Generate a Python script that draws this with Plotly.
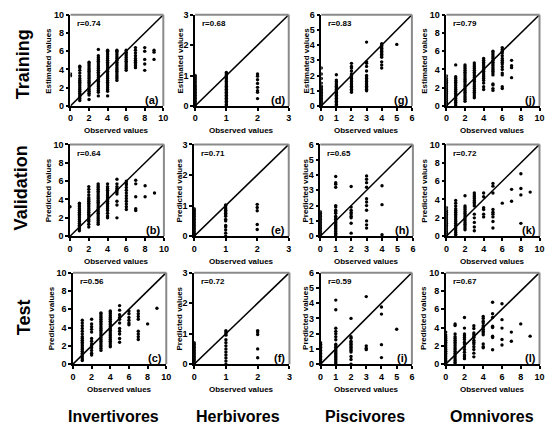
import plotly.graph_objects as go

W, H = 545, 430

# ---------------- data: observed value -> list of estimated/predicted values ----------------
train_invert = {
    0: [3.3, 3.5],
    1: [0.6, 0.8, 1.0, 1.2, 1.4, 1.6, 1.8, 2.0, 2.2, 2.4, 2.6, 2.8, 3.0, 3.3, 3.6, 3.9, 4.2, 4.35],
    2: [0.7, 1.2, 1.4, 1.6, 1.8, 2.0, 2.2, 2.4, 2.6, 2.8, 3.0, 3.2, 3.4, 3.6, 3.8, 4.0, 4.2, 4.4, 4.6, 4.8],
    3: [1.1, 1.5, 1.7, 1.9, 2.1, 2.3, 2.5, 2.7, 2.9, 3.1, 3.3, 3.5, 3.7, 3.9, 4.1, 4.3, 4.5, 4.7, 4.9, 5.1, 5.3, 5.5, 6.2],
    4: [1.1, 1.6, 1.8, 2.0, 2.2, 2.4, 2.6, 2.8, 3.0, 3.2, 3.4, 3.6, 3.8, 4.0, 4.2, 4.4, 4.6, 4.8, 5.0, 5.2, 5.4, 5.6, 5.8, 6.0, 6.1],
    5: [2.8, 3.0, 3.2, 3.4, 3.6, 3.8, 4.0, 4.2, 4.4, 4.6, 4.8, 5.0, 5.2, 5.4, 5.6, 5.8, 6.0, 6.1],
    6: [3.9, 4.1, 4.3, 4.5, 4.7, 4.9, 5.1, 5.3, 5.5, 5.7, 5.9, 6.1],
    7: [4.2, 4.4, 4.6, 4.8, 5.0, 5.2, 5.5, 5.8, 6.1, 6.4],
    8: [3.9, 4.6, 5.1, 6.0, 6.4],
    9: [5.1, 5.9, 6.1],
}
train_herb = {
    0: [0.0, 0.05, 0.1, 0.15, 0.2, 0.25, 0.3, 0.35, 0.4, 0.45, 0.5, 0.55, 0.6, 0.65, 0.7, 0.75, 0.8, 0.85, 0.9, 0.95, 1.0],
    1: [0.0, 0.05, 0.1, 0.15, 0.2, 0.25, 0.3, 0.35, 0.4, 0.45, 0.5, 0.55, 0.6, 0.65, 0.7, 0.75, 0.8, 0.85, 0.9, 0.95, 1.0, 1.05, 1.1],
    2: [0.24, 0.45, 0.5, 0.61, 0.74, 0.86, 0.98, 1.05],
}
train_pisc = {
    0: [0.0, 0.1, 0.2, 0.3, 0.4, 0.5, 0.6, 0.7, 0.8, 0.9, 1.0, 1.1, 1.2, 1.3, 1.5, 1.8, 2.1, 2.5],
    1: [0.0, 0.1, 0.2, 0.3, 0.4, 0.5, 0.6, 0.7, 0.8, 0.9, 1.0, 1.1, 1.2, 1.3, 1.4, 1.5, 1.6, 1.7, 2.05],
    2: [0.9, 1.0, 1.1, 1.2, 1.3, 1.4, 1.5, 1.6, 1.7, 1.8, 1.9, 2.0, 2.1, 2.3, 2.5, 2.6, 2.8],
    3: [1.0, 1.1, 1.2, 1.3, 1.4, 1.5, 1.6, 1.7, 1.8, 1.9, 2.0, 2.3, 2.6, 2.8, 2.9, 4.2],
    4: [2.5, 2.7, 2.9, 3.2, 3.3, 3.4, 3.5, 3.6, 3.7, 3.8, 3.9, 4.0, 4.1],
    5: [4.05],
}
train_omni = {
    0: [0.0, 0.2, 0.4, 0.6, 0.8, 1.0, 1.2, 1.4, 1.6, 1.8, 2.0, 2.2, 2.4, 2.6, 2.8, 3.0, 3.3],
    1: [0.0, 0.2, 0.4, 0.6, 0.8, 1.0, 1.2, 1.4, 1.6, 1.8, 2.0, 2.2, 2.4, 2.6, 2.8, 3.0, 3.2, 4.5],
    2: [0.5, 0.7, 0.9, 1.1, 1.3, 1.5, 1.7, 1.9, 2.1, 2.3, 2.5, 2.7, 2.9, 3.1, 3.3, 3.5, 3.7, 3.9, 4.1, 4.3, 4.5],
    3: [0.9, 1.1, 1.3, 1.5, 1.7, 1.9, 2.1, 2.3, 2.5, 2.7, 2.9, 3.1, 3.3, 3.5, 3.7, 3.9, 4.1, 4.3, 4.5, 4.7],
    4: [1.8, 2.1, 2.5, 2.8, 3.0, 3.2, 3.4, 3.6, 3.8, 4.0, 4.2, 4.4, 4.6, 4.8, 5.0, 5.2],
    5: [1.7, 1.9, 2.3, 2.4, 3.4, 3.6, 3.8, 4.0, 4.2, 4.4, 4.6, 4.8, 5.0, 5.2, 5.4, 5.6, 5.8, 6.0],
    6: [1.9, 2.1, 3.4, 3.6, 4.0, 4.3, 4.6, 4.8, 5.0, 5.2, 5.5, 5.8, 6.0, 6.2, 6.4],
    7: [3.1, 4.2, 4.4, 5.0],
}
valid_invert = {
    0: [3.2],
    1: [0.6, 0.8, 1.0, 1.2, 1.4, 1.6, 1.8, 2.0, 2.2, 2.4, 2.6, 2.8, 3.0, 3.2, 3.4, 3.6],
    2: [1.0, 1.3, 1.6, 1.8, 2.0, 2.2, 2.4, 2.6, 2.8, 3.0, 3.2, 3.4, 3.6, 3.8, 4.0, 4.2, 4.5, 4.8, 5.1, 5.4],
    3: [1.3, 1.5, 1.7, 1.9, 2.1, 2.3, 2.5, 2.7, 2.9, 3.1, 3.3, 3.5, 3.7, 3.9, 4.1, 4.3, 4.5, 4.7, 4.9, 5.1, 5.3, 5.5, 5.7],
    4: [2.0, 2.2, 2.5, 2.8, 3.0, 3.2, 3.4, 3.6, 3.8, 4.0, 4.2, 4.4, 4.6, 4.8, 5.0, 5.2, 5.4, 5.7],
    5: [2.0, 3.4, 3.8, 4.6, 4.8, 5.0, 5.2, 5.4, 5.7, 6.2],
    6: [2.9, 3.2, 3.5, 3.8, 4.1, 4.4, 4.7, 5.0, 5.3, 5.6, 5.8, 6.0],
    7: [2.8, 3.0, 4.3, 5.7, 6.1],
    8: [4.3, 5.5],
    9: [4.7],
}
valid_herb = {
    0: [0.0, 0.05, 0.1, 0.15, 0.2, 0.25, 0.3, 0.35, 0.4, 0.45, 0.5, 0.55, 0.6, 0.65, 0.7, 0.75, 0.8, 0.85, 0.9],
    1: [0.0, 0.1, 0.2, 0.3, 0.35, 0.5, 0.55, 0.65, 0.7, 0.75, 0.8, 0.85, 0.9, 0.95, 1.0, 1.02],
    2: [0.22, 0.38, 0.83, 0.94, 1.04],
}
valid_pisc = {
    0: [0.0, 0.1, 0.2, 0.3, 0.4, 0.5, 0.6, 0.7, 0.8, 0.9, 1.0, 1.1, 1.2, 1.3, 1.4, 1.5, 1.6],
    1: [0.0, 0.1, 0.2, 0.3, 0.4, 0.5, 0.6, 0.7, 0.8, 0.9, 1.0, 1.1, 1.2, 1.3, 1.5, 1.6, 1.7, 1.9, 2.0, 3.2, 3.4, 3.5, 3.9],
    2: [0.2, 0.85, 1.2, 1.3, 1.45, 1.55, 1.7, 1.9, 3.25],
    3: [0.53, 0.74, 1.0, 1.7, 2.0, 2.23, 2.45, 3.2, 3.5, 3.72, 3.94],
    4: [0.1, 2.06, 3.3],
}
valid_omni = {
    0: [0.0, 0.2, 0.4, 0.6, 0.8, 1.0, 1.2, 1.4, 1.6, 1.8, 2.0, 2.2, 2.4, 2.6, 2.8, 3.1],
    1: [0.0, 0.2, 0.4, 0.6, 0.8, 1.0, 1.2, 1.4, 1.6, 1.8, 2.0, 2.2, 2.4, 2.6, 2.8, 3.0, 3.3, 3.6, 3.9],
    2: [0.7, 0.9, 1.1, 1.3, 1.5, 1.7, 1.9, 2.1, 2.3, 2.5, 2.7, 2.9, 3.1, 3.3, 4.4],
    3: [0.6, 1.0, 1.5, 2.0, 2.4, 3.3, 3.5, 3.7, 3.9, 4.1, 4.3, 4.5, 4.7],
    4: [2.1, 2.4, 2.9, 3.1, 4.3, 4.7],
    5: [0.9, 1.6, 2.1, 2.4, 2.6, 2.9, 4.7, 5.45, 5.75],
    6: [3.6],
    7: [3.8, 5.1],
    8: [1.4, 4.5, 5.2, 6.8],
    9: [4.8],
}
test_invert = {
    1: [0.4, 0.6, 0.8, 1.0, 1.2, 1.4, 1.6, 1.8, 2.0, 2.2, 2.4, 2.6, 2.8, 3.0, 3.3, 3.6, 3.9, 4.2, 4.5, 4.8],
    2: [1.0, 1.2, 1.5, 1.8, 2.0, 2.2, 2.5, 2.8, 3.5, 3.8, 4.1, 4.4, 4.9],
    3: [1.5, 1.7, 1.9, 2.1, 2.3, 2.5, 2.7, 2.9, 3.1, 3.3, 3.5, 3.7, 3.9, 4.1, 4.3, 4.5, 4.7, 4.9, 5.1, 5.3, 5.5, 5.6],
    4: [1.9, 2.1, 2.3, 2.5, 2.7, 2.9, 3.1, 3.3, 3.5, 3.7, 3.9, 4.1, 4.3, 4.5, 4.7, 4.9, 5.1, 5.3, 5.5, 5.7, 5.8],
    5: [2.4, 2.8, 3.3, 3.6, 3.9, 4.5, 4.9, 5.1, 5.4, 5.9, 6.4],
    6: [4.3, 4.5, 4.8, 5.1, 5.5, 5.8],
    7: [2.7, 3.0, 3.3, 3.6, 4.9, 5.2, 5.5, 5.8],
    8: [4.4],
    9: [6.1],
}
test_herb = {
    0: [0.0, 0.05, 0.1, 0.15, 0.2, 0.25, 0.3, 0.35, 0.4, 0.45, 0.5, 0.55, 0.6, 0.65, 0.7],
    1: [0.0, 0.1, 0.2, 0.3, 0.4, 0.5, 0.6, 0.7, 0.8, 0.95, 1.0, 1.05, 1.1],
    2: [0.21, 0.5, 0.97, 1.05, 1.1],
}
test_pisc = {
    0: [0.0, 0.1, 0.2, 0.3, 0.4, 0.5, 0.6, 0.7, 0.8, 0.9, 1.0, 1.1, 1.2, 1.3, 1.4],
    1: [0.0, 0.1, 0.2, 0.3, 0.4, 0.5, 0.6, 0.7, 0.8, 0.9, 1.0, 1.1, 1.2, 1.3, 1.6, 1.8, 2.0, 2.15, 2.35, 3.57, 4.2],
    2: [0.0, 0.3, 0.5, 0.8, 0.9, 1.0, 1.1, 1.2, 1.3, 1.4, 1.5, 1.7, 1.8, 3.0],
    3: [0.95, 1.05, 1.2, 4.43],
    4: [0.43, 1.28, 3.28, 3.75],
    5: [2.29],
}
test_omni = {
    0: [0.0, 0.2, 0.4, 0.6, 0.8, 1.0, 1.2, 1.4, 1.6, 1.8, 2.0, 2.2, 2.4, 2.6, 2.8, 3.0, 3.2, 3.5],
    1: [0.0, 0.2, 0.4, 0.6, 0.8, 1.0, 1.2, 1.4, 1.6, 1.8, 2.0, 2.2, 2.4, 2.6, 2.8, 3.0, 3.3, 4.23, 4.4],
    2: [0.6, 0.8, 1.0, 1.3, 1.6, 1.9, 2.2, 2.4, 2.7, 2.9, 3.1, 3.3, 3.94, 5.1],
    3: [0.8, 1.2, 1.6, 1.9, 2.2, 2.4, 2.6, 2.9, 3.0, 3.2, 3.4, 3.9, 4.2],
    4: [1.8, 1.9, 2.2, 3.2, 3.4, 3.6, 3.8, 4.0, 4.2, 4.5, 4.7, 5.0, 5.2],
    5: [1.58, 2.9, 3.06, 4.0, 4.15, 5.1, 5.5, 6.76],
    6: [2.1, 2.7, 3.94, 4.86, 6.6],
    7: [2.5, 3.5],
    8: [4.4],
    9: [3.06],
}

row_labels = ["Training", "Validation", "Test"]
col_labels = ["Invertivores", "Herbivores", "Piscivores", "Omnivores"]
y_titles = ["Estimated values", "Predicted values", "Predicted values"]
x_title = "Observed values"
r_labels = [["r=0.74", "r=0.68", "r=0.83", "r=0.79"],
            ["r=0.64", "r=0.71", "r=0.65", "r=0.72"],
            ["r=0.56", "r=0.72", "r=0.59", "r=0.67"]]
panel_letters = [["(a)", "(d)", "(g)", "(j)"],
                 ["(b)", "(e)", "(h)", "(k)"],
                 ["(c)", "(f)", "(i)", "(l)"]]
axis_max = [10, 3, 6, 10]
axis_dtick = [2, 1, 1, 2]

panels = [[train_invert, train_herb, train_pisc, train_omni],
          [valid_invert, valid_herb, valid_pisc, valid_omni],
          [test_invert, test_herb, test_pisc, test_omni]]

# ---------------- layout geometry (pixels) ----------------
XPIX = [[(68.5, 162.7), (195, 290), (323, 415), (450, 544.5)],
        [(68, 163.3), (194, 290), (322, 416), (450, 544.5)],
        [(71, 165.7), (194, 290.7), (322.3, 415), (449.3, 544.5)]]
YPIX = [(10, 103.3), (142.7, 236.7), (274, 367.7)]
YTITLE_SHIFT = [-22, -15, -15, -22]

FONT = "Liberation Sans, Arial, sans-serif"

fig = go.Figure()
annotations = []
shapes = []
axes = {}

for r in range(3):
    for c in range(4):
        n = r * 4 + c + 1
        xa = "x" if n == 1 else f"x{n}"
        ya = "y" if n == 1 else f"y{n}"
        xk = "xaxis" if n == 1 else f"xaxis{n}"
        yk = "yaxis" if n == 1 else f"yaxis{n}"
        data = panels[r][c]
        xs, ys = [], []
        for o, preds in data.items():
            xs += [o] * len(preds)
            ys += preds
        m = axis_max[c]
        fig.add_trace(go.Scatter(x=xs, y=ys, mode="markers",
                                 marker=dict(size=3.4, color="black", line=dict(width=0)),
                                 xaxis=xa, yaxis=ya, showlegend=False, hoverinfo="skip"))
        fig.add_trace(go.Scatter(x=[0, m], y=[0, m], mode="lines",
                                 line=dict(color="black", width=1.5),
                                 xaxis=xa, yaxis=ya, showlegend=False, hoverinfo="skip"))
        l, rt = XPIX[r][c]
        t, b = YPIX[r]
        common = dict(range=[0, m], dtick=axis_dtick[c], tick0=0, showgrid=False, zeroline=False,
                      showline=True, linecolor="black", linewidth=1.5,
                      ticks="outside", ticklen=3, tickwidth=1.5, tickcolor="black",
                      tickfont=dict(family=FONT, size=9, color="black", weight="bold"),
                      fixedrange=True)
        axes[xk] = dict(domain=[l / W, rt / W], anchor=ya, **common)
        axes[yk] = dict(domain=[1 - b / H, 1 - t / H], anchor=xa, **common)

        # gray frame (top and right)
        shapes.append(dict(type="line", xref=f"{xa} domain", yref=f"{ya} domain",
                           x0=0, x1=1, y0=1, y1=1, line=dict(color="#8a8a8a", width=2)))
        shapes.append(dict(type="line", xref=f"{xa} domain", yref=f"{ya} domain",
                           x0=1, x1=1, y0=0, y1=1, line=dict(color="#8a8a8a", width=2)))

        # axis titles
        annotations.append(dict(text=f"<b>{x_title}</b>", xref=f"{xa} domain", yref=f"{ya} domain",
                                x=0.5, y=0, yshift=-25, xanchor="center", yanchor="middle",
                                showarrow=False, font=dict(family=FONT, size=8, color="black")))
        annotations.append(dict(text=f"<b>{y_titles[r]}</b>", xref=f"{xa} domain", yref=f"{ya} domain",
                                x=0, y=0.5, xshift=YTITLE_SHIFT[c], textangle=-90,
                                xanchor="center", yanchor="middle",
                                showarrow=False, font=dict(family=FONT, size=8, color="black")))
        # r label
        annotations.append(dict(text=f"<b>{r_labels[r][c]}</b>", xref=f"{xa} domain", yref=f"{ya} domain",
                                x=0, y=1, xshift=5, yshift=-9, xanchor="left", yanchor="middle",
                                showarrow=False, font=dict(family=FONT, size=8, color="black")))
        # panel letter
        annotations.append(dict(text=f"<b>{panel_letters[r][c]}</b>", xref=f"{xa} domain", yref=f"{ya} domain",
                                x=1, y=0, xshift=-2, yshift=6, xanchor="right", yanchor="middle",
                                showarrow=False, font=dict(family=FONT, size=11, color="black")))

# row labels
row_pos = [(20, 61), (18, 187), (21, 320)]
for lab, (px, py) in zip(row_labels, row_pos):
    annotations.append(dict(text=f"<b>{lab}</b>", xref="paper", yref="paper",
                            x=px / W, y=1 - py / H, textangle=-90, xanchor="center", yanchor="middle",
                            showarrow=False, font=dict(family=FONT, size=18, color="black")))
# column labels
col_pos = [112, 239, 367, 496]
for lab, px in zip(col_labels, col_pos):
    annotations.append(dict(text=f"<b>{lab}</b>", xref="paper", yref="paper",
                            x=px / W, y=1 - 421 / H, xanchor="center", yanchor="middle",
                            showarrow=False, font=dict(family=FONT, size=16, color="black")))

fig.update_layout(width=W, height=H, margin=dict(l=0, r=0, t=0, b=0),
                  paper_bgcolor="white", plot_bgcolor="white",
                  annotations=annotations, shapes=shapes, **axes)

fig.write_html("out.html", config={"displayModeBar": False})
